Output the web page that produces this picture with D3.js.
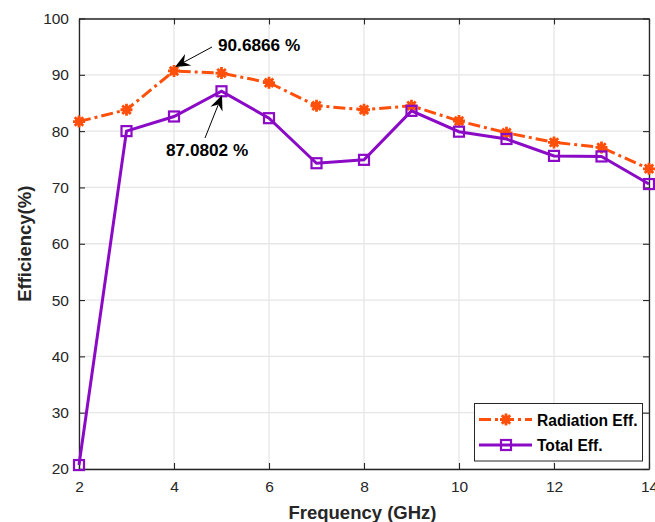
<!DOCTYPE html>
<html>
<head>
<meta charset="utf-8">
<script src="https://cdn.jsdelivr.net/npm/d3@7"></script>
<style>
  html, body { margin: 0; padding: 0; background: #fff; }
  svg { display: block; font-family: "Liberation Sans", Arial, Helvetica, sans-serif; }
</style>
</head>
<body>
<svg id="chart" width="655" height="522"></svg>
<script>
// Frequency sweep (GHz)
const frequencies = [2, 3, 4, 5, 6, 7, 8, 9, 10, 11, 12, 13, 14];
// Radiation efficiency (%)
const radiationEff = [81.7, 83.8, 90.6866, 90.3, 88.6, 84.5, 83.8, 84.5, 81.8, 79.7, 78.0, 77.1, 73.3];
// Total efficiency (%)
const totalEff = [20.7, 80.0, 82.6, 87.0802, 82.3, 74.3, 74.9, 83.6, 79.9, 78.6, 75.6, 75.5, 70.6];
// Axis ticks
const xTicks = [2, 4, 6, 8, 10, 12, 14];
const yTicks = [20, 30, 40, 50, 60, 70, 80, 90, 100];
// Series labels
const seriesNames = ["Radiation Eff.", "Total Eff."];
// Peak annotations: series index, point index
const peakNotes = [
  { series: 0, index: 2 },
  { series: 1, index: 3 }
];

const orange = "#ff4f0a";
const purple = "#8b0ac6";
const axisColor = "#262626";

const svg = d3.select("#chart");
const margin = { left: 79, right: 6, top: 18.5, bottom: 53 };
const W = 655, H = 522;
const x = d3.scaleLinear().domain([2, 14]).range([margin.left, W - margin.right]);
const y = d3.scaleLinear().domain([20, 100]).range([H - margin.bottom, margin.top]);

// grid
const grid = svg.append("g");
grid.selectAll("line.gx").data(xTicks).join("line")
  .attr("x1", d => x(d)).attr("x2", d => x(d))
  .attr("y1", y(20)).attr("y2", y(100))
  .attr("stroke", "#e6e6e6").attr("stroke-width", 1.3);
grid.selectAll("line.gy").data(yTicks).join("line")
  .attr("y1", d => y(d)).attr("y2", d => y(d))
  .attr("x1", x(2)).attr("x2", x(14))
  .attr("stroke", "#e6e6e6").attr("stroke-width", 1.3);

// axes (box with inward ticks on all sides)
const tickLen = 6;
const axBottom = d3.axisBottom(x).tickValues(xTicks).tickSizeInner(-tickLen).tickSizeOuter(0).tickPadding(12);
const axTop = d3.axisTop(x).tickValues(xTicks).tickSizeInner(-tickLen).tickSizeOuter(0).tickFormat("");
const axLeft = d3.axisLeft(y).tickValues(yTicks).tickSizeInner(-tickLen).tickSizeOuter(0).tickPadding(10);
const axRight = d3.axisRight(y).tickValues(yTicks).tickSizeInner(-tickLen).tickSizeOuter(0).tickFormat("");

function styleAxis(g) {
  g.select(".domain").attr("stroke", axisColor).attr("stroke-width", 1.3);
  g.selectAll(".tick line").attr("stroke", axisColor).attr("stroke-width", 1.1);
  g.selectAll(".tick text").attr("fill", axisColor).attr("font-size", 15.5)
    .attr("font-family", "'Liberation Sans', Arial, sans-serif");
}
svg.append("g").attr("transform", `translate(0,${y(20)})`).call(axBottom).call(styleAxis);
svg.append("g").attr("transform", `translate(0,${y(100)})`).call(axTop).call(styleAxis);
svg.append("g").attr("transform", `translate(${x(2)},0)`).call(axLeft).call(styleAxis);
svg.append("g").attr("transform", `translate(${x(14)},0)`).call(axRight).call(styleAxis);

// axis titles
svg.append("text").attr("x", 362.5).attr("y", 519)
  .attr("text-anchor", "middle").attr("font-weight", "bold").attr("font-size", 18.5)
  .attr("fill", axisColor).text("Frequency (GHz)");
svg.append("text").attr("transform", `translate(31,${(y(20) + y(100)) / 2}) rotate(-90)`)
  .attr("text-anchor", "middle").attr("font-weight", "bold").attr("font-size", 18.5)
  .attr("fill", axisColor).text("Efficiency(%)");

// asterisk marker path centered at 0,0
function asteriskPath(r) {
  const d = r * Math.SQRT1_2;
  return `M${-r},0L${r},0M0,${-r}L0,${r}M${-d},${-d}L${d},${d}M${-d},${d}L${d},${-d}`;
}

const line = d3.line().x((d, i) => x(frequencies[i])).y(d => y(d));

// radiation efficiency series
svg.append("path").datum(radiationEff).attr("d", line)
  .attr("fill", "none").attr("stroke", orange).attr("stroke-width", 3)
  .attr("stroke-dasharray", "12,4,3,4");
svg.append("g").selectAll("g").data(radiationEff).join("g")
  .attr("transform", (d, i) => `translate(${x(frequencies[i])},${y(d)})`)
  .call(g => {
    g.append("circle").attr("r", 4).attr("fill", orange);
    g.append("path").attr("d", asteriskPath(6)).attr("stroke", orange).attr("stroke-width", 2.8).attr("fill", "none");
  });

// total efficiency series
svg.append("path").datum(totalEff).attr("d", line)
  .attr("fill", "none").attr("stroke", purple).attr("stroke-width", 3);
svg.append("g").selectAll("rect").data(totalEff).join("rect")
  .attr("x", (d, i) => x(frequencies[i]) - 5).attr("y", d => y(d) - 5)
  .attr("width", 10).attr("height", 10)
  .attr("fill", "none").attr("stroke", purple).attr("stroke-width", 2.2);

// annotation arrows
const seriesData = [radiationEff, totalEff];
function arrow(x0, y0, x1, y1) {
  const g = svg.append("g");
  const ang = Math.atan2(y1 - y0, x1 - x0);
  const headLen = 15, headW = 6.5, notch = 10;
  const bx = x1 - headLen * Math.cos(ang), by = y1 - headLen * Math.sin(ang);
  const nx = x1 - notch * Math.cos(ang), ny = y1 - notch * Math.sin(ang);
  const px = -Math.sin(ang), py = Math.cos(ang);
  g.append("line").attr("x1", x0).attr("y1", y0).attr("x2", nx).attr("y2", ny)
    .attr("stroke", "#000").attr("stroke-width", 1);
  g.append("path")
    .attr("d", `M${x1},${y1}L${bx + px * headW},${by + py * headW}L${nx},${ny}L${bx - px * headW},${by - py * headW}Z`)
    .attr("fill", "#000");
}
const note0 = peakNotes[0], note1 = peakNotes[1];
const p0 = { x: x(frequencies[note0.index]), y: y(seriesData[note0.series][note0.index]) };
const p1 = { x: x(frequencies[note1.index]), y: y(seriesData[note1.series][note1.index]) };
arrow(212, 47, p0.x + 1, p0.y - 4);
svg.append("text").attr("x", 218).attr("y", 51).attr("font-weight", "bold").attr("font-size", 17.2)
  .attr("fill", "#000").text(seriesData[note0.series][note0.index].toFixed(4) + " %");
arrow(205, 138, p1.x + 0.5, p1.y + 4);
svg.append("text").attr("x", 166).attr("y", 156).attr("font-weight", "bold").attr("font-size", 17.2)
  .attr("fill", "#000").text(seriesData[note1.series][note1.index].toFixed(4) + " %");

// legend
const lg = svg.append("g");
lg.append("rect").attr("x", 474.5).attr("y", 403.5).attr("width", 168).attr("height", 57.5)
  .attr("fill", "#fff").attr("stroke", axisColor).attr("stroke-width", 1);
const ly = [419.5, 445];
lg.append("line").attr("x1", 479).attr("x2", 532).attr("y1", ly[0]).attr("y2", ly[0])
  .attr("stroke", orange).attr("stroke-width", 3).attr("stroke-dasharray", "12,4,3,4");
lg.append("circle").attr("cx", 506).attr("cy", ly[0]).attr("r", 4).attr("fill", orange);
lg.append("path").attr("transform", `translate(506,${ly[0]})`).attr("d", asteriskPath(6))
  .attr("stroke", orange).attr("stroke-width", 2.8);
lg.append("line").attr("x1", 479).attr("x2", 532).attr("y1", ly[1]).attr("y2", ly[1])
  .attr("stroke", purple).attr("stroke-width", 3);
lg.append("rect").attr("x", 501).attr("y", ly[1] - 5).attr("width", 10).attr("height", 10)
  .attr("fill", "none").attr("stroke", purple).attr("stroke-width", 2.2);
lg.selectAll("text").data(seriesNames).join("text")
  .attr("x", 537).attr("y", (d, i) => ly[i] + 6)
  .attr("font-weight", "bold").attr("font-size", 15.6).attr("fill", "#000").text(d => d);
</script>
</body>
</html>
